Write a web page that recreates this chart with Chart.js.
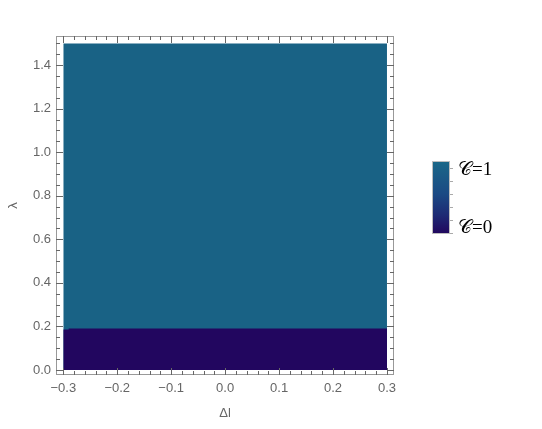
<!DOCTYPE html>
<html>
<head>
<meta charset="utf-8">
<script src="https://cdn.jsdelivr.net/npm/chart.js@4/dist/chart.umd.min.js"></script>
<style>
  body { margin: 0; background: #fff; }
  #wrap { position: relative; width: 542px; height: 429px; }
  #leyenda-barra {
    position: absolute; left: 432px; top: 161px; width: 16px; height: 71px;
    border: 1px solid #bdbdbd;
    background: linear-gradient(#1b6788, #1b4a84 45%, #1d2a74 75%, #21085e);
  }
  .marca { position: absolute; left: 450px; width: 3px; height: 1px; background: #aaa; }
  .etiqueta {
    position: absolute; left: 458px; font-family: "Liberation Serif", "DejaVu Serif", serif;
    font-size: 19px; color: #000; line-height: 19px;
  }
</style>
</head>
<body>
<div id="wrap">
  <canvas id="grafico" width="542" height="429"></canvas>
  <div id="leyenda-barra"></div>
  <div id="marcas"></div>
  <div class="etiqueta" style="top:159px">𝒞=1</div>
  <div class="etiqueta" style="top:217px">𝒞=0</div>
</div>
<script>
// datos
const deltaL = [-0.3, -0.29, -0.29, 0.3];      // eje x de la frontera
const fronteraLambda = [0.186, 0.186, 0.19, 0.19]; // frontera C=0 / C=1
const lambdaMax = 1.5;
const lambdaMin = 0;
const xTicks = [-0.3, -0.2, -0.1, 0.0, 0.1, 0.2, 0.3];
const yTicks = [0.0, 0.2, 0.4, 0.6, 0.8, 1.0, 1.2, 1.4];

const colorC1 = '#196285';
const colorC0 = '#22065f';

// marcas de la barra de leyenda
const nodoMarcas = document.getElementById('marcas');
[168, 181, 194, 207, 220, 233].forEach(y => {
  const d = document.createElement('div');
  d.className = 'marca';
  d.style.top = y + 'px';
  nodoMarcas.appendChild(d);
});

const puntos = (ys) => deltaL.map((x, i) => ({ x: x, y: ys[i] }));

const marco = {
  id: 'marco',
  afterDatasetsDraw(chart) {
    const { ctx, chartArea: a, scales: { x, y } } = chart;
    ctx.save();
    ctx.strokeStyle = '#999';
    ctx.lineWidth = 1;
    ctx.strokeRect(a.left + 0.5, a.top + 0.5, a.right - a.left - 1, a.bottom - a.top - 1);
    ctx.strokeStyle = '#666';
    ctx.beginPath();
    // ticks x (abajo y arriba)
    for (let i = -15; i <= 15; i++) {
      const v = i * 0.02;
      const px = Math.round(x.getPixelForValue(v)) + 0.5;
      const len = i % 5 === 0 ? 7 : 4;
      ctx.moveTo(px, a.bottom); ctx.lineTo(px, a.bottom - len);
      ctx.moveTo(px, a.top); ctx.lineTo(px, a.top + len);
    }
    // ticks y (izquierda y derecha)
    for (let i = 0; i <= 30; i++) {
      const v = i * 0.05;
      const py = Math.round(y.getPixelForValue(v)) + 0.5;
      const len = i % 4 === 0 ? 7 : 4;
      ctx.moveTo(a.left, py); ctx.lineTo(a.left + len, py);
      ctx.moveTo(a.right, py); ctx.lineTo(a.right - len, py);
    }
    ctx.stroke();
    ctx.restore();
  }
};

const fmt = v => v.toFixed(1).replace('-', '\u2212');

new Chart(document.getElementById('grafico'), {
  type: 'scatter',
  data: {
    datasets: [
      {
        // C=0 encima (el primer dataset se dibuja arriba)
        label: 'C=0',
        data: puntos(fronteraLambda),
        showLine: true,
        borderWidth: 0,
        pointRadius: 0,
        backgroundColor: colorC0,
        fill: { value: lambdaMin }
      },
      {
        label: 'C=1',
        data: puntos(deltaL.map(() => lambdaMax)),
        showLine: true,
        borderWidth: 0,
        pointRadius: 0,
        backgroundColor: colorC1,
        fill: { value: lambdaMin }
      }
    ]
  },
  plugins: [marco],
  options: {
    responsive: false,
    animation: false,
    devicePixelRatio: 1,
    layout: { padding: { top: 36, right: 148, left: 0, bottom: 0 } },
    plugins: { legend: { display: false }, tooltip: { enabled: false } },
    scales: {
      x: {
        type: 'linear',
        min: -0.3135,
        max: 0.313,
        afterFit: s => { s.height = 54; },
        afterBuildTicks: s => { s.ticks = xTicks.map(v => ({ value: v })); },
        grid: { display: false, drawTicks: false },
        border: { display: false },
        ticks: {
          padding: 6,
          maxRotation: 0,
          autoSkip: false,
          color: '#666',
          font: { family: 'Liberation Sans', size: 13 },
          callback: v => fmt(v)
        },
        title: {
          display: true,
          text: 'Δl',
          color: '#666',
          font: { family: 'Liberation Sans', size: 13 },
          padding: { top: 0, bottom: 8 }
        }
      },
      y: {
        type: 'linear',
        min: -0.023,
        max: 1.534,
        afterFit: s => { s.width = 56; },
        afterBuildTicks: s => { s.ticks = yTicks.map(v => ({ value: v })); },
        grid: { display: false, drawTicks: false },
        border: { display: false },
        ticks: {
          padding: 5,
          autoSkip: false,
          color: '#666',
          font: { family: 'Liberation Sans', size: 13 },
          callback: v => fmt(v)
        },
        title: {
          display: true,
          text: 'λ',
          color: '#666',
          font: { family: 'Liberation Sans', size: 13 },
          padding: { top: 6, bottom: 0 }
        }
      }
    }
  }
});
</script>
</body>
</html>
